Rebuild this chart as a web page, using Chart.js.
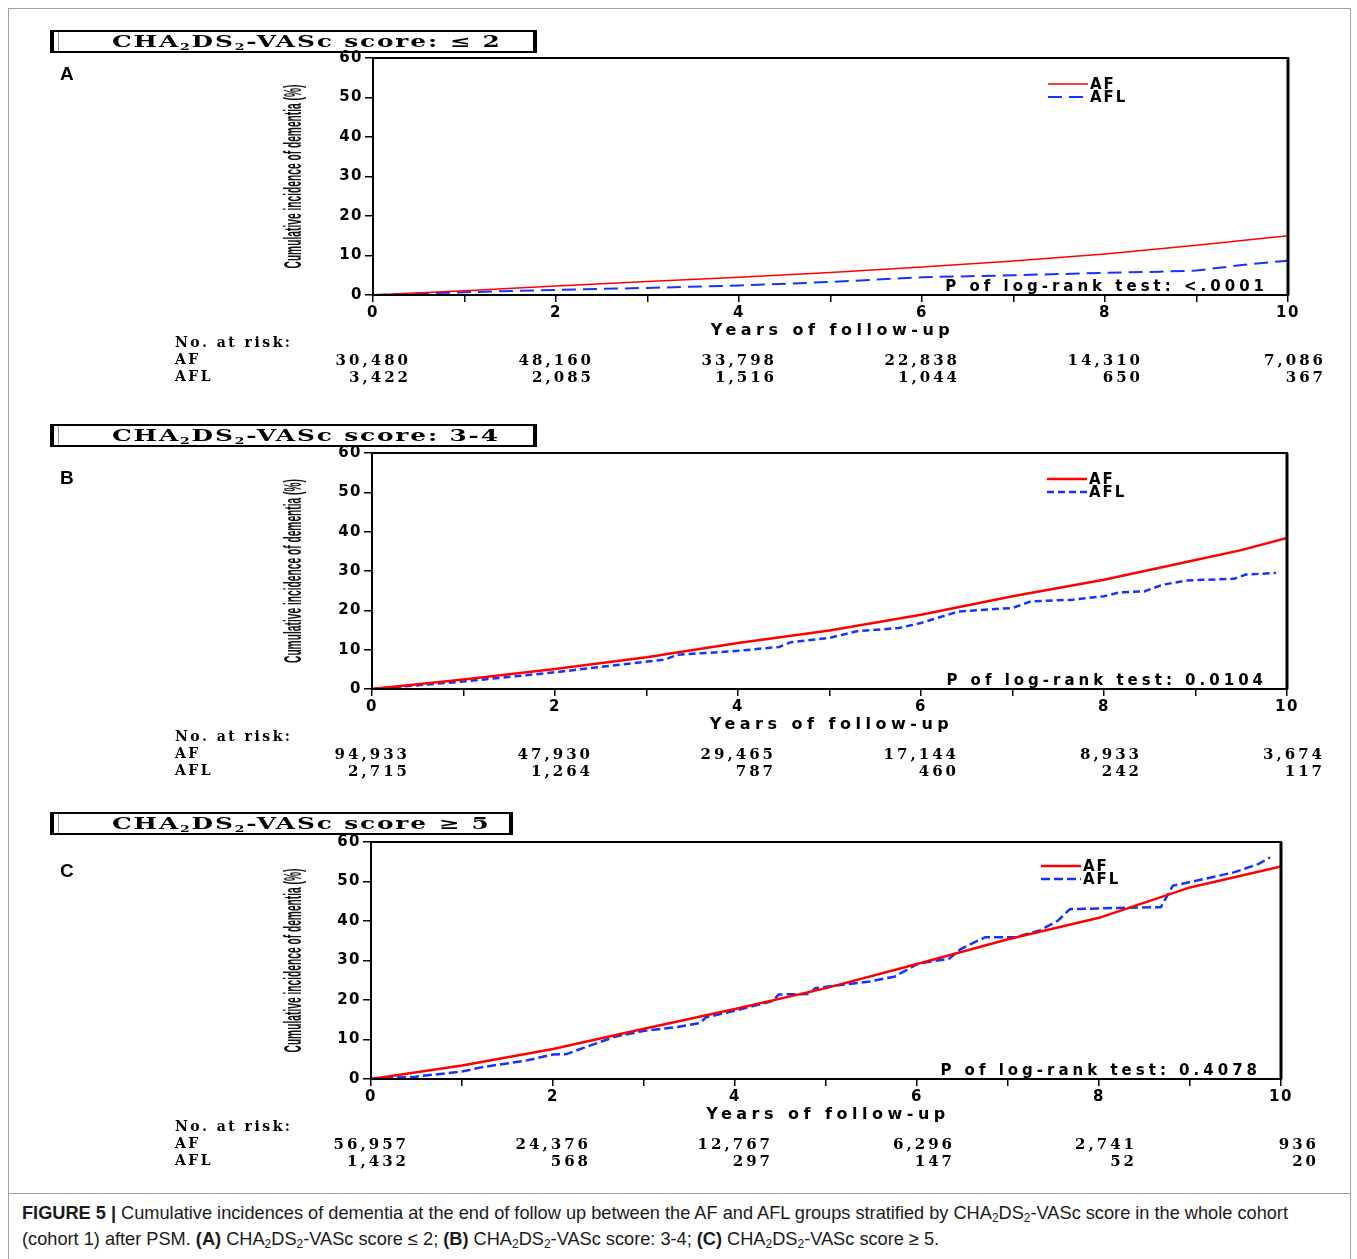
<!DOCTYPE html>
<html>
<head>
<meta charset="utf-8">
<script src="https://cdn.jsdelivr.net/npm/chart.js@4.4.1/dist/chart.umd.min.js"></script>
<style>
  body { margin: 0; background: #fff; width: 1357px; height: 1259px; position: relative; overflow: hidden; }
  .frame { position: absolute; left: 8px; top: 8px; width: 1341px; height: 1184px; border: 1px solid #a0a0a0; }
  .capframe { position: absolute; left: 8px; top: 1194px; width: 1341px; height: 80px; border-left: 1px solid #a0a0a0; border-right: 1px solid #a0a0a0; }
  canvas { position: absolute; left: 0; }
  .tbox { position: absolute; left: 50px; height: 23px; box-sizing: border-box; border: 2px solid #000; border-left: 4px solid #000; border-right: 4px solid #000;
          white-space: nowrap; z-index: 2; overflow: visible; }
  .tbox::before { content: ""; position: absolute; left: 4px; top: 0; bottom: 0; border-left: 1px solid #999; }
  .tbox span { position: absolute; left: 58px; top: 0; display: inline-block; transform-origin: 0 50%; transform: scaleX(1.55);
               font: bold 16px "DejaVu Serif", serif; line-height: 19px; letter-spacing: 1.2px; }
  .tbox sub { font-size: 9px; vertical-align: -3px; line-height: 0; }
  .letter { position: absolute; left: 60px; font: bold 19px "Liberation Sans", Arial, sans-serif; z-index: 2; }
  .cap { position: absolute; left: 22px; font: 18.2px "Liberation Sans Narrow", "Liberation Sans", sans-serif; white-space: nowrap; color: #1a1a1a; }
  .cap sub { font-size: 12px; vertical-align: -3px; line-height: 0; }
</style>
</head>
<body>
<div class="frame"></div>
<div class="capframe"></div>

<div class="tbox" style="top:30px;width:487px;"><span>CHA<sub>2</sub>DS<sub>2</sub>-VASc score: ≤ 2</span></div>
<div class="tbox" style="top:424px;width:487px;"><span>CHA<sub>2</sub>DS<sub>2</sub>-VASc score: 3-4</span></div>
<div class="tbox" style="top:812px;width:463px;"><span>CHA<sub>2</sub>DS<sub>2</sub>-VASc score ≥ 5</span></div>
<div class="letter" style="top:63px;">A</div>
<div class="letter" style="top:467px;">B</div>
<div class="letter" style="top:860px;">C</div>

<canvas id="panelA" width="1357" height="395" style="top:0px"></canvas>
<canvas id="panelB" width="1357" height="395" style="top:395px"></canvas>
<canvas id="panelC" width="1357" height="400" style="top:790px"></canvas>

<div class="cap" style="top:1203px"><b>FIGURE 5 |</b> Cumulative incidences of dementia at the end of follow up between the AF and AFL groups stratified by CHA<sub>2</sub>DS<sub>2</sub>-VASc score in the whole cohort</div>
<div class="cap" style="top:1229px">(cohort 1) after PSM. <b>(A)</b> CHA<sub>2</sub>DS<sub>2</sub>-VASc score ≤ 2; <b>(B)</b> CHA<sub>2</sub>DS<sub>2</sub>-VASc score: 3-4; <b>(C)</b> CHA<sub>2</sub>DS<sub>2</sub>-VASc score ≥ 5.</div>

<script>
// axis ticks
const yTicks = [0, 10, 20, 30, 40, 50, 60];
const xTickLabels = [0, 2, 4, 6, 8, 10];
const riskYears = [0, 2, 4, 6, 8, 10];

// panel A: score <= 2
const aAfYears = [0, 1, 2, 3, 4, 5, 6, 7, 8, 9, 10];
const aAfValues = [0, 1.1, 2.3, 3.4, 4.5, 5.7, 7.1, 8.6, 10.4, 12.6, 15.0];
const aAflYears = [0, 1, 2, 3, 4, 5, 6, 7, 8, 8.6, 9, 9.5, 10];
const aAflValues = [0, 0.7, 1.3, 1.8, 2.4, 3.3, 4.5, 5.0, 5.6, 5.9, 6.2, 7.6, 8.7];
const aRiskAf = [30480, 48160, 33798, 22838, 14310, 7086];
const aRiskAfl = [3422, 2085, 1516, 1044, 650, 367];

// panel B: score 3-4
const bAfYears = [0, 1, 2, 3, 4, 5, 6, 7, 8, 9, 9.5, 10];
const bAfValues = [0, 2.4, 5.1, 8.1, 11.7, 14.9, 18.9, 23.6, 27.8, 32.8, 35.3, 38.4];
const bAflYears = [0, 1.0, 2.02, 3.01, 3.2, 3.34, 4.0, 4.45, 4.58, 5.0, 5.3, 5.76, 6.0, 6.41, 7.0, 7.2, 7.66, 8.0, 8.18, 8.44, 8.64, 8.9, 9.42, 9.55, 9.88];
const bAflValues = [0, 1.9, 4.3, 7.0, 7.5, 8.7, 9.7, 10.7, 11.9, 13.0, 14.7, 15.5, 16.8, 19.7, 20.6, 22.3, 22.7, 23.6, 24.6, 24.8, 26.5, 27.6, 28.0, 29.1, 29.5];
const bRiskAf = [94933, 47930, 29465, 17144, 8933, 3674];
const bRiskAfl = [2715, 1264, 787, 460, 242, 117];

// panel C: score >= 5
const cAfYears = [0, 1, 2, 3, 4, 5, 6, 7, 8, 9, 10];
const cAfValues = [0, 3.4, 7.6, 12.7, 17.7, 23.0, 29.1, 35.4, 40.8, 48.5, 53.8];
const cAflYears = [0, 0.49, 1.0, 1.22, 1.69, 2.0, 2.15, 2.35, 2.68, 3.0, 3.35, 3.62, 3.68, 4.0, 4.42, 4.48, 4.82, 4.88, 5.48, 5.75,
                   6.02, 6.35, 6.48, 6.75, 7.08, 7.35, 7.55, 7.68, 8.21, 8.68, 8.81, 9.15, 9.48, 9.75, 9.88];
const cAflValues = [0, 0.6, 1.9, 3.0, 4.6, 6.2, 6.3, 8.0, 10.7, 12.2, 13.1, 14.2, 15.6, 17.3, 19.8, 21.4, 21.5, 23.0, 24.7, 25.9,
                    29.3, 30.4, 32.9, 35.9, 35.9, 37.6, 40.1, 43.0, 43.3, 43.5, 48.9, 50.6, 52.3, 54.4, 56.1];
const cRiskAf = [56957, 24376, 12767, 6296, 2741, 936];
const cRiskAfl = [1432, 568, 297, 147, 52, 20];

const toPoints = (xs, ys) => xs.map((x, i) => ({ x: x, y: ys[i] }));
const fmt = n => n.toLocaleString('en-US');

const extras = {
    id: 'extras',
    beforeDraw(chart) {
        chart.ctx.letterSpacing = '1.5px';
    },
    afterDraw(chart, args, o) {
        const ctx = chart.ctx;
        const a = chart.chartArea;
        const xs = chart.scales.x;
        ctx.save();
        ctx.fillStyle = '#000';
        ctx.strokeStyle = '#000';

        // frame of the plot
        ctx.lineWidth = 2;
        ctx.strokeRect(a.left, a.top, a.right - a.left, a.bottom - a.top);
        ctx.lineWidth = 3;
        ctx.beginPath();
        ctx.moveTo(a.right, a.top);
        ctx.lineTo(a.right, a.bottom);
        ctx.stroke();

        // legend
        const ds = chart.data.datasets;
        ds.forEach((d, i) => {
            const y = a.top + o.legendDy + i * 13;
            ctx.strokeStyle = d.borderColor;
            ctx.lineWidth = d.borderWidth;
            ctx.setLineDash(d.borderDash || []);
            ctx.beginPath();
            ctx.moveTo(a.right - 240, y);
            ctx.lineTo(a.right - 200, y);
            ctx.stroke();
            ctx.setLineDash([]);
            ctx.font = 'bold 15px "DejaVu Sans"';
            ctx.letterSpacing = '2px';
            ctx.textAlign = 'left';
            ctx.textBaseline = 'middle';
            ctx.fillText(d.label, a.right - 198, y + 1);
        });

        // log-rank p value
        ctx.font = 'bold 15px "DejaVu Sans"';
        ctx.letterSpacing = '4px';
        ctx.textAlign = 'right';
        ctx.textBaseline = 'middle';
        ctx.fillText(o.pText, a.right - 20, a.bottom - 8);

        // x title
        ctx.font = 'bold 16px "DejaVu Sans"';
        ctx.letterSpacing = '4.5px';
        ctx.textAlign = 'center';
        ctx.fillText('Years of follow-up', (a.left + a.right) / 2 + 2, a.bottom + 36);

        // y title, squeezed along its length
        ctx.letterSpacing = '0px';
        ctx.font = 'bold 23px "Liberation Sans"';
        ctx.fillStyle = '#111';
        const yt = 'Cumulative incidence of dementia (%)';
        const w = ctx.measureText(yt).width;
        ctx.save();
        ctx.translate(295, (a.top + a.bottom) / 2);
        ctx.rotate(-Math.PI / 2);
        ctx.scale(184 / w, 1);
        ctx.textAlign = 'center';
        ctx.fillText(yt, 0, 0);
        ctx.restore();

        // number at risk table
        ctx.fillStyle = '#000';
        ctx.font = 'bold 14px "DejaVu Serif"';
        ctx.letterSpacing = '2.5px';
        ctx.textAlign = 'left';
        ctx.fillText('No. at risk:', 175, a.bottom + 48);
        ctx.fillText('AF', 175, a.bottom + 65);
        ctx.fillText('AFL', 175, a.bottom + 82);
        ctx.font = 'bold 15px "DejaVu Serif"';
        ctx.letterSpacing = '3px';
        ctx.textAlign = 'right';
        riskYears.forEach((yr, i) => {
            const px = xs.getPixelForValue(yr) + 38;
            ctx.fillText(fmt(o.riskAf[i]), px, a.bottom + 66);
            ctx.fillText(fmt(o.riskAfl[i]), px, a.bottom + 83);
        });
        ctx.restore();
    }
};

function makePanel(id, p) {
    const tickFont = { family: 'DejaVu Sans', size: 15, weight: 'bold' };
    return new Chart(document.getElementById(id).getContext('2d'), {
        type: 'line',
        data: {
            datasets: [{
                label: 'AF',
                data: toPoints(p.afYears, p.afValues),
                borderColor: '#ff0000',
                borderWidth: p.afWidth,
                pointRadius: 0,
                tension: 0
            }, {
                label: 'AFL',
                data: toPoints(p.aflYears, p.aflValues),
                borderColor: '#1433ff',
                borderWidth: p.aflWidth,
                borderDash: p.dash,
                pointRadius: 0,
                tension: 0
            }]
        },
        options: {
            responsive: false,
            animation: false,
            events: [],
            layout: { padding: { left: 0, top: p.top, right: p.right, bottom: p.bottom } },
            plugins: {
                legend: { display: false },
                tooltip: { enabled: false },
                extras: { pText: p.pText, legendDy: p.legendDy, riskAf: p.riskAf, riskAfl: p.riskAfl }
            },
            scales: {
                x: {
                    type: 'linear',
                    min: 0,
                    max: 10,
                    ticks: {
                        stepSize: 1,
                        autoSkip: false,
                        maxRotation: 0,
                        padding: 2,
                        color: '#000',
                        font: tickFont,
                        callback: v => xTickLabels.includes(v) ? String(v) : ''
                    },
                    grid: { drawOnChartArea: false, tickLength: 7, color: '#000', lineWidth: 1.5 },
                    border: { display: false },
                    afterFit: s => { s.height = 40; s.paddingLeft = 0; s.paddingRight = 0; }
                },
                y: {
                    min: 0,
                    max: 60,
                    ticks: {
                        stepSize: 10,
                        padding: 2,
                        color: '#000',
                        font: tickFont,
                        callback: v => yTicks.includes(v) ? String(v) : ''
                    },
                    grid: { drawOnChartArea: false, tickLength: 8, color: '#000', lineWidth: 1.5 },
                    border: { display: false },
                    afterFit: s => { s.width = p.left; s.paddingTop = 0; s.paddingBottom = 0; }
                }
            }
        },
        plugins: [extras]
    });
}

makePanel('panelA', {
    afYears: aAfYears, afValues: aAfValues, aflYears: aAflYears, aflValues: aAflValues,
    riskAf: aRiskAf, riskAfl: aRiskAfl, pText: 'P of log-rank test: <.0001',
    afWidth: 1.5, aflWidth: 2, dash: [14, 7],
    left: 373, top: 58, right: 69, bottom: 60, legendDy: 26
});
makePanel('panelB', {
    afYears: bAfYears, afValues: bAfValues, aflYears: bAflYears, aflValues: bAflValues,
    riskAf: bRiskAf, riskAfl: bRiskAfl, pText: 'P of log-rank test: 0.0104',
    afWidth: 2.5, aflWidth: 2.5, dash: [7, 4],
    left: 372, top: 58, right: 70, bottom: 61, legendDy: 26
});
makePanel('panelC', {
    afYears: cAfYears, afValues: cAfValues, aflYears: cAflYears, aflValues: cAflValues,
    riskAf: cRiskAf, riskAfl: cRiskAfl, pText: 'P of log-rank test: 0.4078',
    afWidth: 2.5, aflWidth: 2.5, dash: [9, 4],
    left: 371, top: 52, right: 76, bottom: 71, legendDy: 24
});
</script>
</body>
</html>
